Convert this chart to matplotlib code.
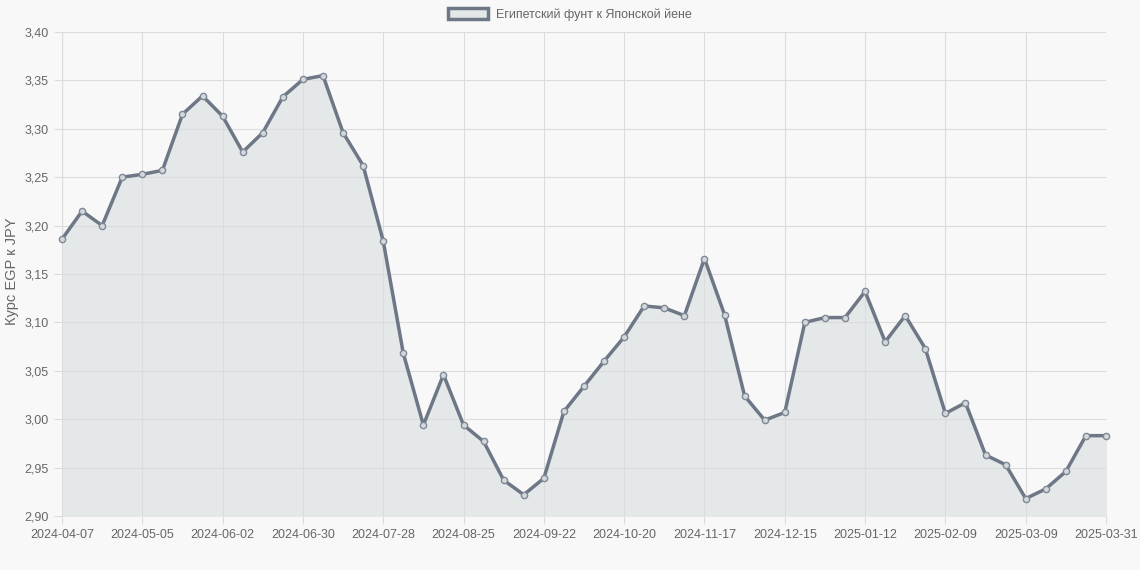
import matplotlib
matplotlib.use('Agg')
import matplotlib.pyplot as plt
from matplotlib.ticker import FuncFormatter, MultipleLocator
from matplotlib.patches import Patch

plt.rcParams['font.family'] = ['Liberation Sans', 'DejaVu Sans']

# недельные даты (последняя точка — 2025-03-31)
dates = ['2024-04-07', '2024-04-14', '2024-04-21', '2024-04-28', '2024-05-05', '2024-05-12',
         '2024-05-19', '2024-05-26', '2024-06-02', '2024-06-09', '2024-06-16', '2024-06-23',
         '2024-06-30', '2024-07-07', '2024-07-14', '2024-07-21', '2024-07-28', '2024-08-04',
         '2024-08-11', '2024-08-18', '2024-08-25', '2024-09-01', '2024-09-08', '2024-09-15',
         '2024-09-22', '2024-09-29', '2024-10-06', '2024-10-13', '2024-10-20', '2024-10-27',
         '2024-11-03', '2024-11-10', '2024-11-17', '2024-11-24', '2024-12-01', '2024-12-08',
         '2024-12-15', '2024-12-22', '2024-12-29', '2025-01-05', '2025-01-12', '2025-01-19',
         '2025-01-26', '2025-02-02', '2025-02-09', '2025-02-16', '2025-02-23', '2025-03-02',
         '2025-03-09', '2025-03-16', '2025-03-23', '2025-03-30', '2025-03-31']

rates = [3.186, 3.215, 3.200, 3.250, 3.253, 3.257, 3.315, 3.334, 3.313, 3.276,
         3.296, 3.333, 3.351, 3.355, 3.296, 3.262, 3.184, 3.068, 2.994, 3.046,
         2.994, 2.977, 2.937, 2.922, 2.939, 3.008, 3.034, 3.060, 3.085, 3.117,
         3.115, 3.107, 3.166, 3.108, 3.024, 2.999, 3.007, 3.100, 3.105, 3.105,
         3.132, 3.080, 3.107, 3.073, 3.006, 3.017, 2.963, 2.953, 2.918, 2.928,
         2.946, 2.983, 2.983]

tick_labels = ['2024-04-07', '2024-05-05', '2024-06-02', '2024-06-30', '2024-07-28',
               '2024-08-25', '2024-09-22', '2024-10-20', '2024-11-17', '2024-12-15',
               '2025-01-12', '2025-02-09', '2025-03-09', '2025-03-31']

line_color = '#6d7786'
fill_color = '#e5e8e9'
bg = '#f8f8f8'

fig = plt.figure(figsize=(11.4, 5.7), dpi=100, facecolor=bg)
ax = fig.add_axes([62/1140, 54/570, 1044/1140, 484/570], facecolor=bg)

x = list(range(len(dates)))
ax.fill_between(x, rates, 2.90, color=fill_color, zorder=1)
ax.plot(x, rates, color=line_color, lw=2.5, zorder=3,
        marker='o', ms=4.5, mfc='#d3d8dc', mec='#7f8894', mew=1, clip_on=False)

ax.set_xlim(0, len(dates) - 1)
ax.set_ylim(2.90, 3.40)
ax.yaxis.set_major_locator(MultipleLocator(0.05))
ax.yaxis.set_major_formatter(FuncFormatter(lambda v, p: f'{v:.2f}'.replace('.', ',')))

tick_pos = [dates.index(d) for d in tick_labels]
ax.set_xticks(tick_pos)
ax.set_xticklabels(tick_labels)

ax.grid(True, color='#dcdcdc', lw=0.8, zorder=0)
for s in ax.spines.values():
    s.set_visible(False)
ax.axvline(0, color='#cfcfcf', lw=0.8, zorder=0)
ax.axhline(2.90, color='#cfcfcf', lw=0.8, zorder=0)
ax.tick_params(axis='both', colors='#dcdcdc', labelcolor='#666666', labelsize=9, length=6, width=0.8)
ax.tick_params(axis='x', pad=3)

fig.text(12/1140, 0.5 + 14/570, 'Курс EGP к JPY', color='#666666', fontsize=10.5,
         rotation=90, ha='center', va='center')

handle = Patch(facecolor=fill_color, edgecolor=line_color, lw=2.5)
fig.legend([handle], ['Египетский фунт к Японской йене'], loc='upper center',
           bbox_to_anchor=(0.5, 1.005), frameon=False, fontsize=9,
           handlelength=3.2, handleheight=0.9, handletextpad=0.7, labelcolor='#666666')

fig.savefig('out.png', dpi=100, facecolor=bg)
